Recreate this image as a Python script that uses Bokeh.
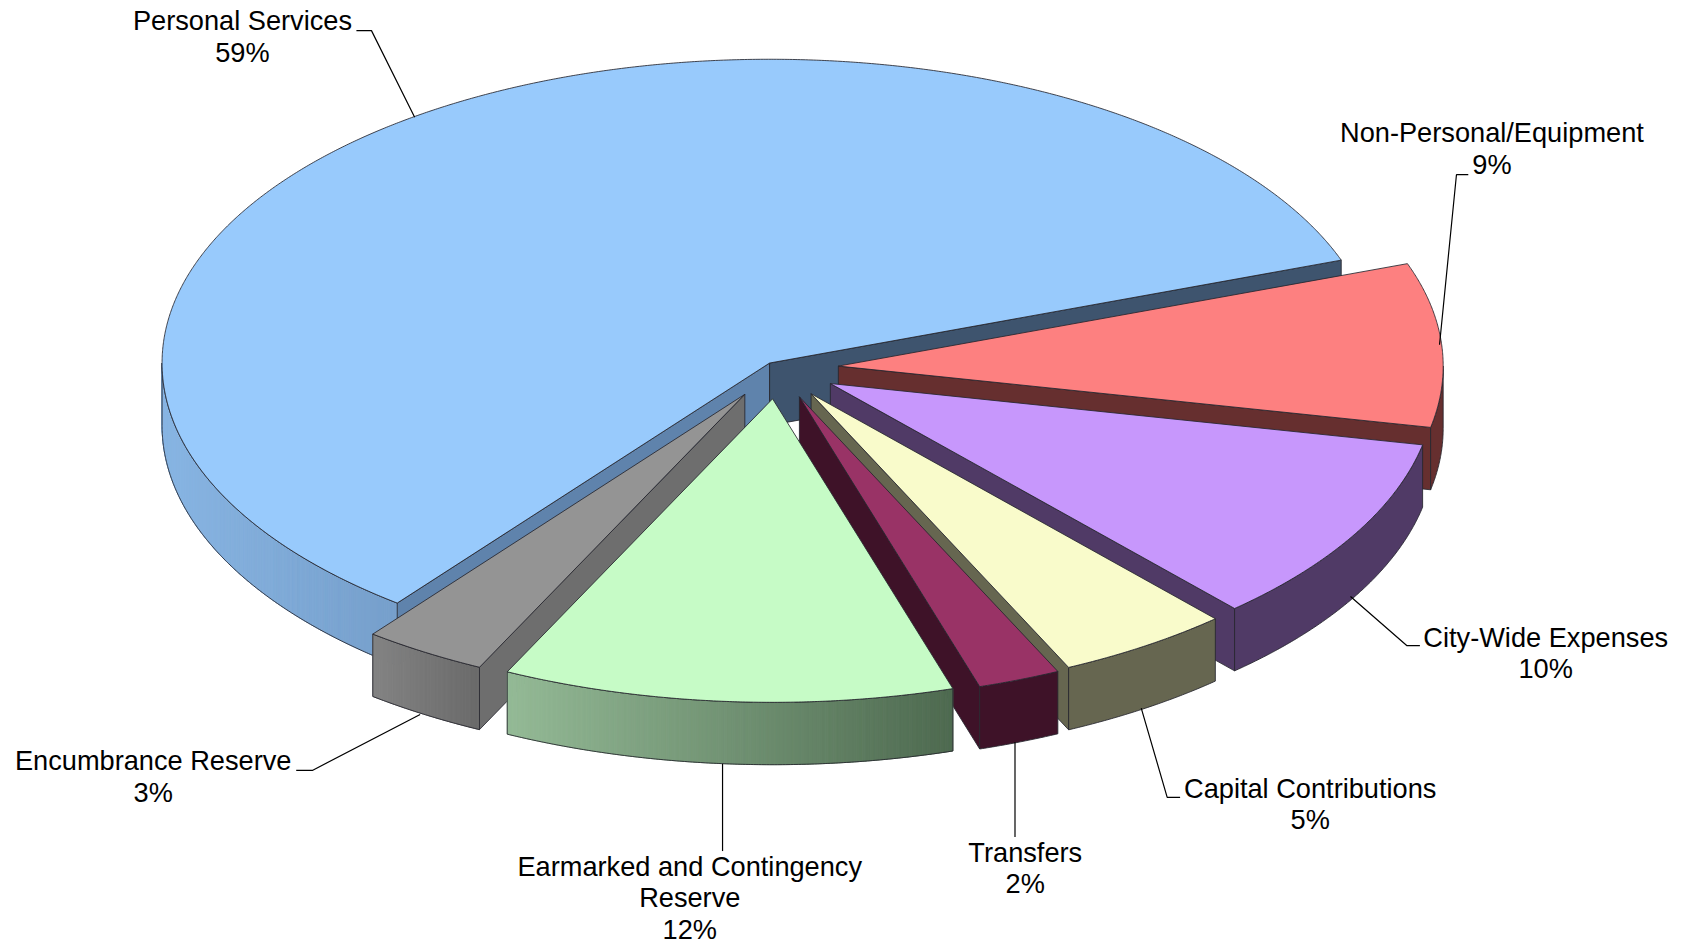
import math
from bokeh.plotting import figure
from bokeh.models import Range1d, ColumnDataSource
from bokeh.core.properties import value
from bokeh.embed import file_html
from bokeh.resources import INLINE

# ---- data ----
categories = ["Personal Services", "Non-Personal/Equipment", "City-Wide Expenses",
              "Capital Contributions", "Transfers",
              "Earmarked and Contingency Reserve", "Encumbrance Reserve"]
shares = [59.0, 8.75, 10.1, 4.65, 2.2, 12.0, 3.3]

# ---- styles / layout ----
top_colors = ["#98CAFC", "#FD8080", "#C797FC", "#F9FBCB", "#993366", "#C6FBC6", "#949494"]
wall_left = ["#88B5E3", "#662F2F", "#503A66", "#666650", "#3E1228", "#94BA96", "#838383"]
wall_right = ["#769FCB", "#662F2F", "#503A66", "#666650", "#3E1228", "#4E6A50", "#6A6A6A"]
cut_hi = ["#5F83AC", "#662F2F", "#503A66", "#666650", "#3E1228", "#6A6A6A", "#6E6E6E"]
cut_lo = ["#3E546E", "#662F2F", "#503A66", "#666650", "#3E1228", "#6A6A6A", "#6E6E6E"]
S = 1.0753
explode = [12 * S, 57 * S, 57 * S, 57 * S, 57 * S, 57 * S, 57 * S]
radius = [565 * S, 562.5 * S, 562.5 * S, 562.5 * S, 564.5 * S, 564.5 * S, 564.5 * S]
paint_order = [0, 1, 2, 3, 4, 6, 5]
START = 19.8
CX, CY = 722.3 * S, 342.0 * S
DEPTH = 58 * S
label_lines = [["Personal Services"], ["Non-Personal/Equipment"], ["City-Wide Expenses"],
               ["Capital Contributions"], ["Transfers"],
               ["Earmarked and Contingency", "Reserve"], ["Encumbrance Reserve"]]
label_center = [(225, 19), (1387, 123), (1437, 592), (1218, 733), (953, 792), (641, 805.5), (142, 707)]
leader_via = [[(345, 28), (331, 28)], [(1354, 162), (1365, 162)], [(1308, 600), (1320, 600)],
              [(1085, 741), (1097, 741)], [(943, 778)], [(672, 791)], [(290, 716), (275, 716)]]
leader_nudge = [2, -2, -4, -4, -4, -4, -4]
LINE_STEP = 29.1 * S
FONT = value("Liberation Sans")

p = figure(width=1686, height=945, output_backend="svg", toolbar_location=None,
           x_range=Range1d(0, 1686), y_range=Range1d(945, 0), min_border=0,
           background_fill_color="white", border_fill_color="white")
p.axis.visible = False
p.grid.visible = False
p.outline_line_color = None


def hexmix(a, b, t):
    ca = [int(a[i:i + 2], 16) for i in (1, 3, 5)]
    cb = [int(b[i:i + 2], 16) for i in (1, 3, 5)]
    return "#%02X%02X%02X" % tuple(round(x + (y - x) * t) for x, y in zip(ca, cb))


def pt(ax, ay, r, deg):
    t = math.radians(deg)
    return ax + r * math.cos(t), ay - 0.5 * r * math.sin(t)


def arc(ax, ay, r, a, b):
    n = max(2, int(abs(b - a) * 4))
    return [pt(ax, ay, r, a + (b - a) * i / n) for i in range(n + 1)]


EDGE = dict(line_color="#26262E", line_width=1, line_alpha=0.85)


def poly(points, color):
    xs, ys = zip(*points)
    p.patch(list(xs), list(ys), fill_color=color, **EDGE)


# angular extents: first slice counter-clockwise from START, others clockwise
spans = [(START, START + 3.6 * shares[0])]
hi = START
for v in shares[1:]:
    spans.append((hi - 3.6 * v, hi))
    hi -= 3.6 * v
apexes = []
for (lo, hi), e in zip(spans, explode):
    m = math.radians((lo + hi) / 2)
    apexes.append((CX + e * math.cos(m), CY - 0.5 * e * math.sin(m)))

for i in paint_order:
    lo, hi = spans[i]
    ax, ay = apexes[i]
    r = radius[i]
    # cut faces
    faces = []
    if math.sin(math.radians(hi + 90)) < 0:
        faces.append((hi, cut_hi[i]))
    if math.sin(math.radians(lo - 90)) < 0:
        faces.append((lo, cut_lo[i]))
    for ang, col in faces:
        ex, ey = pt(ax, ay, r, ang)
        poly([(ax, ay), (ex, ey), (ex, ey + DEPTH), (ax, ay + DEPTH)], col)
    # outer wall, with a gradient made of thin strips where the colour changes
    for w_lo, w_hi in ((-180, 0), (180, 360)):
        a, b = max(lo, w_lo), min(hi, w_hi)
        if b <= a:
            continue
        pts = arc(ax, ay, r, a, b)
        if pts[0][0] > pts[-1][0]:
            pts = pts[::-1]
        outline = pts + [(x, y + DEPTH) for x, y in pts[::-1]]
        ox, oy = zip(*outline)
        if wall_left[i] == wall_right[i]:
            p.patch(list(ox), list(oy), fill_color=wall_left[i], **EDGE)
            continue
        x0, x1 = pts[0][0], pts[-1][0]
        xs, ys, cols = [], [], []
        for (xa, ya), (xb, yb) in zip(pts[:-1], pts[1:]):
            xs.append([xa, xb, xb, xa])
            ys.append([ya, yb, yb + DEPTH, ya + DEPTH])
            cols.append(hexmix(wall_left[i], wall_right[i], ((xa + xb) / 2 - x0) / (x1 - x0)))
        p.patches(xs, ys, fill_color=cols, line_color=cols, line_width=1)
        p.patch(list(ox), list(oy), fill_color=None, **EDGE)
    # top face
    poly([(ax, ay)] + arc(ax, ay, r, lo, hi), top_colors[i])

# leaders
for i in range(len(shares)):
    lo, hi = spans[i]
    mid = (lo + hi) / 2
    sx, sy = pt(apexes[i][0], apexes[i][1], radius[i], mid)
    if math.sin(math.radians(mid)) < -0.2:
        sy += DEPTH
    sx += leader_nudge[i] * S
    via_x = [x * S for x, _ in leader_via[i]]
    via_y = [y * S for _, y in leader_via[i]]
    if len(via_x) == 1:   # straight drop below the slice
        via_x = [sx]
    p.line([sx] + via_x, [sy] + via_y, line_color="black", line_width=1.2)

# labels
tx, ty, tt = [], [], []
for i, lines in enumerate(label_lines):
    cx, cy = label_center[i]
    rows = lines + [f"{round(shares[i])}%"]
    for k, row in enumerate(rows):
        tx.append(cx * S)
        ty.append(cy * S + k * LINE_STEP)
        tt.append(row)
p.text(x="x", y="y", text="t", source=ColumnDataSource(dict(x=tx, y=ty, t=tt)),
       text_font=FONT, text_font_size="27.2px", text_align="center",
       text_baseline="middle", text_color="black")

open("out.html", "w").write(file_html(p, INLINE))
